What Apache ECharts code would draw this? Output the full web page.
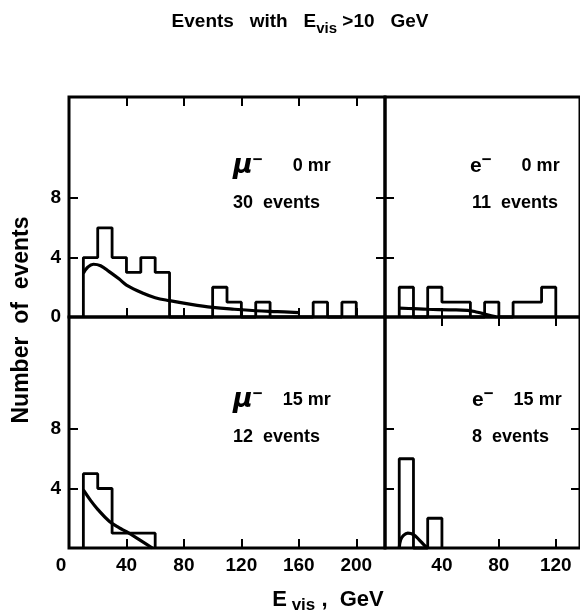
<!DOCTYPE html>
<html><head><meta charset="utf-8">
<script src="https://cdn.jsdelivr.net/npm/echarts@6/dist/echarts.min.js"></script>
<style>html,body{margin:0;padding:0;background:#fff}#c{width:580px;height:613px}</style>
</head><body><div id="c"></div>
<script>
// ---- data (GeV bins of width 10, starting at 10 GeV) ----
const binWidth = 10;
const ulBinStart = 10;
const ulCounts = [4,6,4,3,4,3,0,0,0,2,1,0,1,0,0,0,1,0,1];   // mu- 0 mr, 30 events
const urBinStart = 10;
const urCounts = [2,0,2,1,1,0,1,0,1,1,2];                   // e- 0 mr, 11 events
const llBinStart = 10;
const llCounts = [5,4,1,1,1];                               // mu- 15 mr, 12 events
const lrBinStart = 10;
const lrCounts = [6,0,2];                                   // e- 15 mr, 8 events

// expected curves
const ulCurveE = [10,13,17,22,28,35,40,52,60,70,85,100,115,130,145,160];
const ulCurveN = [2.95,3.35,3.55,3.45,3.05,2.55,2.15,1.58,1.3,1.1,0.85,0.65,0.52,0.42,0.36,0.3];
const urCurveE = [10,20,30,45,58,65,72,78];
const urCurveN = [0.6,0.56,0.52,0.48,0.45,0.32,0.15,0.02];
const llCurveE = [10,15,20,28,35,40,50,58];
const llCurveN = [3.9,3.2,2.6,1.8,1.35,1.1,0.5,0];
const lrCurveE = [10,11,13,16,20,24,28,30];
const lrCurveN = [0,0.55,0.85,1.0,0.9,0.55,0.15,0];

// ticks
const leftXLabels = [0,40,80,120,160,200];
const leftXTicks = [40,80,120,160,200];
const rightXLabels = [40,80,120];
const rightXTicks = [40,80,120];
const yTickVals = [4,8];
const upperYLabels = [0,4,8];
const lowerYLabels = [4,8];

// ---- build ----
const FONT = "'Liberation Sans', Arial, sans-serif";
function steps(start, counts) {
  const pts = [[start, 0]];
  counts.forEach((c, i) => {
    const lo = start + i * binWidth, hi = lo + binWidth;
    pts.push([lo, c], [hi, c]);
  });
  pts.push([start + counts.length * binWidth, 0]);
  return pts;
}
function zip(a, b) { return a.map((v, i) => [v, b[i]]); }

const tickStyle = {show: true, inside: true, length: 9, lineStyle: {color: '#000', width: 2}};
const labelStyle = {color: '#000', fontSize: 19, fontWeight: 'bold', fontFamily: FONT};

function xAx(gi, max, pos, ticks, labels) {
  return {
    type: 'value', gridIndex: gi, min: 0, max: max, position: pos,
    axisLine: {show: false}, splitLine: {show: false},
    axisTick: Object.assign({}, tickStyle, {customValues: ticks}),
    axisLabel: labels ? Object.assign({}, labelStyle, {
      show: true, margin: 8, customValues: labels,
      formatter: v => v === 0 ? '{z|0}' : String(v),
      rich: {z: {padding: [0, 16, 0, 0], fontSize: 19, fontWeight: 'bold', fontFamily: FONT, color: '#000'}}
    }) : {show: false}
  };
}
function yAx(gi, max, pos, labels) {
  return {
    type: 'value', gridIndex: gi, min: 0, max: max, position: pos,
    axisLine: {show: false}, splitLine: {show: false},
    axisTick: Object.assign({}, tickStyle, {customValues: yTickVals}),
    axisLabel: labels ? Object.assign({}, labelStyle, {show: true, margin: 8, customValues: labels}) : {show: false}
  };
}

const upMax = 14.8, lowMax = 15.53, leftMax = 220, rightMax = 137;
const gridBase = {show: true, borderColor: '#000', borderWidth: 3, containLabel: false};

const histLine = {color: '#000', width: 2.8};
const curveLine = {color: '#000', width: 3.2};
function histSeries(i, start, counts) {
  return {type: 'line', xAxisIndex: i, yAxisIndex: i, data: steps(start, counts),
    showSymbol: false, symbol: 'none', lineStyle: histLine, clip: false, animation: false};
}
function curveSeries(i, e, n) {
  return {type: 'line', xAxisIndex: i, yAxisIndex: i, data: zip(e, n), smooth: 0.4,
    showSymbol: false, symbol: 'none', lineStyle: curveLine, clip: false, animation: false};
}

function label(x, y, parts) {
  return {type: 'text', x: x, y: y, style: {
    text: parts, align: 'left', verticalAlign: 'middle', fill: '#000',
    rich: {
      m: {fontSize: 27, fontStyle: 'italic', fontWeight: 'bold', fontFamily: 'DejaVu Sans, sans-serif', lineHeight: 28, verticalAlign: 'middle'},
      e: {fontSize: 21, fontWeight: 'bold', fontFamily: FONT, lineHeight: 28, verticalAlign: 'middle'},
      sup: {fontSize: 17, fontWeight: 'bold', fontFamily: FONT, lineHeight: 14, verticalAlign: 'top'},
      t: {fontSize: 18, fontWeight: 'bold', fontFamily: FONT, lineHeight: 28, verticalAlign: 'middle'}
    }
  }};
}

const chart = echarts.init(document.getElementById('c'), null, {renderer: 'canvas'});
chart.setOption({
  animation: false,
  backgroundColor: '#fff',
  grid: [
    Object.assign({left: 69, top: 97, width: 316, height: 220}, gridBase),
    Object.assign({left: 385, top: 97, width: 197, height: 220}, gridBase),
    Object.assign({left: 69, top: 317, width: 316, height: 231}, gridBase),
    Object.assign({left: 385, top: 317, width: 197, height: 231}, gridBase)
  ],
  xAxis: [
    xAx(0, leftMax, 'bottom', leftXTicks, null),
    xAx(1, rightMax, 'bottom', rightXTicks, null),
    xAx(2, leftMax, 'bottom', leftXTicks, leftXLabels),
    xAx(3, rightMax, 'bottom', rightXTicks, rightXLabels),
    xAx(0, leftMax, 'top', leftXTicks, null),
    xAx(1, rightMax, 'top', rightXTicks, null)
  ],
  yAxis: [
    yAx(0, upMax, 'left', upperYLabels),
    yAx(1, upMax, 'left', null),
    yAx(2, lowMax, 'left', lowerYLabels),
    yAx(3, lowMax, 'left', null),
    yAx(1, upMax, 'right', null),
    yAx(3, lowMax, 'right', null)
  ],
  series: [
    histSeries(0, ulBinStart, ulCounts), curveSeries(0, ulCurveE, ulCurveN),
    histSeries(1, urBinStart, urCounts), curveSeries(1, urCurveE, urCurveN),
    histSeries(2, llBinStart, llCounts), curveSeries(2, llCurveE, llCurveN),
    histSeries(3, lrBinStart, lrCounts), curveSeries(3, lrCurveE, lrCurveN)
  ],
  graphic: [
    {type: 'text', x: 300, y: 22, style: {
      text: '{a|Events   with   E}{s|vis}{a| >10   GeV}', align: 'center', verticalAlign: 'middle', fill: '#000',
      rich: {
        a: {fontSize: 19, fontWeight: 'bold', fontFamily: FONT, lineHeight: 28, verticalAlign: 'middle'},
        s: {fontSize: 15, fontWeight: 'bold', fontFamily: FONT, lineHeight: 15, verticalAlign: 'bottom'}
      }}},
    {type: 'text', x: 22, y: 320, rotation: Math.PI / 2, style: {
      text: 'Number  of  events', align: 'center', verticalAlign: 'middle', fill: '#000',
      fontSize: 23, fontWeight: 'bold', fontFamily: FONT}},
    {type: 'text', x: 328, y: 600, style: {
      text: '{a|E}{s| vis}{a| ,  GeV}', align: 'center', verticalAlign: 'middle', fill: '#000',
      rich: {
        a: {fontSize: 22, fontWeight: 'bold', fontFamily: FONT, lineHeight: 28, verticalAlign: 'middle'},
        s: {fontSize: 17, fontWeight: 'bold', fontFamily: FONT, lineHeight: 16, verticalAlign: 'bottom'}
      }}},
    label(233, 166, '{m|μ}{sup|−}{t|      0 mr}'),
    label(233, 203, '{t|30  events}'),
    label(470, 166, '{e|e}{sup|−}{t|      0 mr}'),
    label(472, 203, '{t|11  events}'),
    label(233, 400, '{m|μ}{sup|−}{t|    15 mr}'),
    label(233, 437, '{t|12  events}'),
    label(472, 400, '{e|e}{sup|−}{t|    15 mr}'),
    label(472, 437, '{t|8  events}')
  ]
});
</script></body></html>
